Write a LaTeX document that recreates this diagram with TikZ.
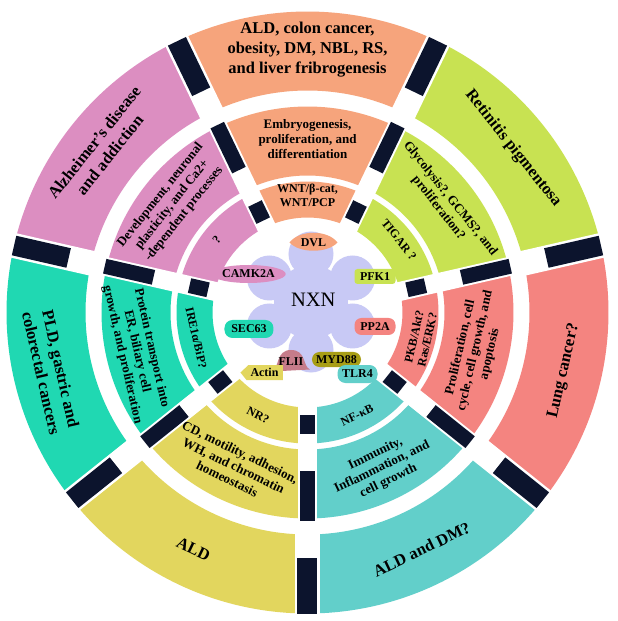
\documentclass[tikz,border=0pt]{standalone}
\usepackage{fontspec}
\setmainfont{Liberation Serif}
\usetikzlibrary{shapes.geometric}
\definecolor{cOrange}{RGB}{246,164,124}
\definecolor{cPink}{RGB}{220,142,193}
\definecolor{cLime}{RGB}{200,226,82}
\definecolor{cSalmon}{RGB}{244,132,128}
\definecolor{cTeal}{RGB}{98,207,202}
\definecolor{cYellow}{RGB}{226,214,94}
\definecolor{cCyan}{RGB}{32,216,178}
\definecolor{cNavy}{RGB}{12,20,45}
\definecolor{cLav}{RGB}{200,201,245}
\definecolor{cMauve}{RGB}{198,124,138}
\definecolor{cOlive}{RGB}{168,158,22}
\newcommand{\ringsector}[5]{%
  \fill[#1] (#2:#4pt) arc[start angle=#2, end angle=#3, radius=#4pt] -- (#3:#5pt) arc[start angle=#3, end angle=#2, radius=#5pt] -- cycle;}
\begin{document}
\begin{tikzpicture}[x=1pt,y=1pt,
  outertxt/.style={font=\fontsize{16.5}{20}\selectfont\bfseries, align=center, inner sep=0pt},
  midtxt/.style={font=\fontsize{13}{15}\selectfont\bfseries, align=center, inner sep=0pt},
  innertxt/.style={font=\fontsize{12}{13.5}\selectfont\bfseries, align=center, inner sep=0pt},
  prot/.style={font=\fontsize{12}{13}\selectfont\bfseries, inner sep=0pt},
  gapbar/.style={fill=white},
  blockbar/.style={fill=cNavy},
]
\useasboundingbox (-307.5,-308.5) rectangle (310.5,312.5);
\fill[white] (-307.5,-308.5) rectangle (310.5,312.5);

% ring sectors
\foreach \col [count=\k from 0] in {cTeal,cSalmon,cLime,cOrange,cPink,cCyan,cYellow} {
  \pgfmathsetmacro\aA{-90+\k*360/7}
  \pgfmathsetmacro\aB{-90+(\k+1)*360/7}
  \ringsector{\col}{\aA}{\aB}{222}{301}
  \ringsector{\col}{\aA}{\aB}{137}{206}
  \ringsector{\col}{\aA}{\aB}{95}{131}
}
% gaps and dark blocks
\foreach \k in {0,...,6} {
  \pgfmathsetmacro\bb{-90+\k*360/7}
  \fill[gapbar, rotate=\bb] (216,-12.5) rectangle (306,12.5);
  \fill[gapbar, rotate=\bb] (132,-9.5) rectangle (211,9.5);
  \fill[gapbar, rotate=\bb] (90,-9.5) rectangle (134,9.5);
  \fill[blockbar, rotate=\bb] (245,-10) rectangle (301,10);
  \fill[blockbar, rotate=\bb] (158,-7.5) rectangle (208,7.5);
  \fill[blockbar, rotate=\bb] (102,-7.5) rectangle (121,7.5);
}

% outer ring texts
\node[outertxt] (o3) at (90:263pt) {ALD, colon cancer,\\obesity, DM, NBL, RS,\\and liver fribrogenesis};
\node[outertxt, rotate=-51.43] (o2) at (38.57:263pt) {Retinitis pigmentosa};
\node[outertxt, rotate=77.14] (o1) at (-12.86:263pt) {Lung cancer?};
\node[outertxt, rotate=25.71] (o0) at (-64.29:263pt) {ALD and DM?};
\node[outertxt, rotate=-25.71] (o6) at (244.29:263pt) {ALD};
\node[outertxt, rotate=-77.14] (o5) at (192.86:263pt) {PLD, gastric and\\colorectal cancers};
\node[outertxt, rotate=51.43] (o4) at (141.43:263pt) {Alzheimer’s disease\\and addiction};

% middle ring texts
\node[midtxt] (m3) at (90:173pt) {Embryogenesis,\\proliferation, and\\differentiation};
\node[midtxt, rotate=-51.43] (m2) at (38.57:175pt) {Glycolysis?, GCMS?, and\\proliferation?};
\node[midtxt, rotate=77.14] (m1) at (-12.86:172pt) {Proliferation, cell\\cycle, cell growth, and\\apoptosis};
\node[midtxt, rotate=25.71] (m0) at (-64.29:172pt) {Immunity,\\Inflammation, and\\cell growth};
\node[midtxt, rotate=-25.71] (m6) at (244.29:170pt) {CD, motility, adhesion,\\WH, and chromatin\\homeostasis};
\node[midtxt, rotate=-77.14] (m5) at (192.86:175pt) {Protein transport into\\ER, biliary cell\\growth, and proliferation};
\node[midtxt, rotate=51.43] (m4) at (141.43:173pt) {Development, neuronal\\plasticity, and Ca2+\\-dependent processes};

% inner ring texts
\node[innertxt] (i3) at (90:117pt) {WNT/β-cat,\\WNT/PCP};
\node[innertxt, rotate=-51.43] (i2) at (38.57:117pt) {TIGAR ?};
\node[innertxt, rotate=77.14] (i1) at (-12.86:116pt) {PKB/Akt?\\Ras/ERK?};
\node[innertxt, rotate=25.71] (i0) at (-64.29:114pt) {NF-κB};
\node[innertxt, rotate=-25.71] (i6) at (244.29:114pt) {NR?};
\node[innertxt, rotate=-77.14] (i5) at (192.86:114pt) {IRE1α/BiP?};
\node[innertxt, rotate=51.43] (i4) at (141.43:116pt) {?};

% central flower
\begin{scope}[shift={(3.5,10.5)}]
  \fill[cLav] (0,0) circle[radius=37pt];
  \foreach \a in {90,30,-30,-90,-150,150} {
    \fill[cLav] (\a:48pt) circle[radius=22.5pt];
  }
\end{scope}
\node[font=\fontsize{20.5}{24}\selectfont, inner sep=0pt] (nxn) at (5.8,12.5) {NXN};

% protein labels
\fill[cOrange] (-18,70) .. controls (-8,83) and (20,83) .. (30,70) .. controls (20,59) and (-8,59) .. cycle;
\node[prot] (dvl) at (6,70) {DVL};
\node[prot, fill=cPink, ellipse, minimum width=58pt, minimum height=18pt] (camk) at (-59,38.5) {CAMK2A};
\node[prot, fill=cLime, rounded corners=3pt, minimum width=41pt, minimum height=15pt] (pfk) at (67.5,36) {PFK1};
\node[prot, fill=cSalmon, rounded corners=7pt, minimum width=41pt, minimum height=17pt] (pp2a) at (67.5,-14) {PP2A};
\node[prot, fill=cCyan, rounded corners=8pt, minimum width=49pt, minimum height=18pt] (sec) at (-58.5,-16.5) {SEC63};
\fill[cMauve] (-35.5,-59) .. controls (-28,-56) and (-32,-37.5) .. (-16.5,-37.5) .. controls (-1,-37.5) and (-5,-54) .. (2.5,-57) -- cycle;
\node[prot] (flii) at (-16.5,-49) {FLII};
\node[prot, fill=cOlive, rounded corners=7.5pt, minimum width=49pt, minimum height=15pt] (myd) at (29,-47) {MYD88};
\node[prot, fill=cTeal, rounded corners=8pt, minimum width=40pt, minimum height=18pt] (tlr) at (50,-61.5) {TLR4};
\fill[cYellow] (-67,-60) -- (-59,-52.5) -- (-24.5,-52.5) -- (-24.5,-67.5) -- (-61,-67.5) -- cycle;
\node[prot] (actin) at (-43,-60) {Actin};
\end{tikzpicture}
\end{document}
